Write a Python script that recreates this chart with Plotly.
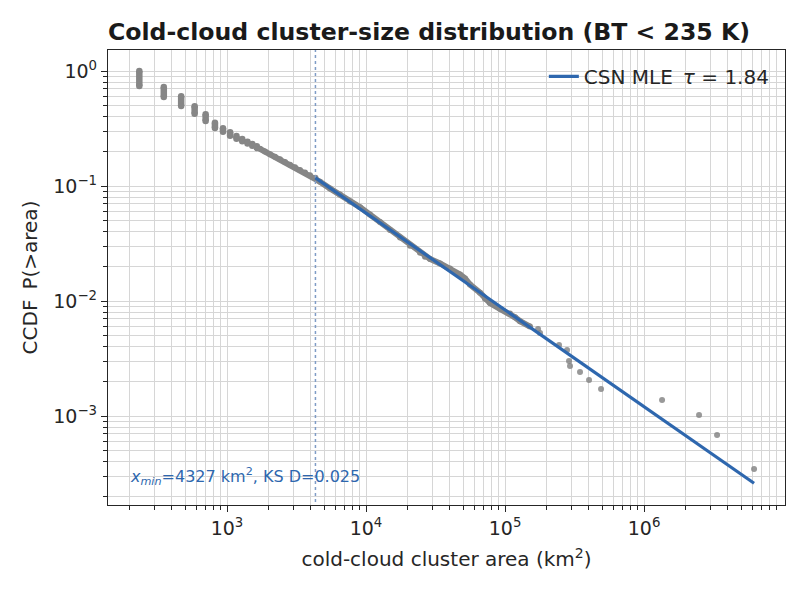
import plotly.graph_objects as go

# ---- data ----
# tied cluster areas (small sizes): area, CCDF at top and bottom of each stack of tied points
col_area = [234, 351, 468, 585, 702, 819, 936, 1053, 1170, 1287, 1404, 1521, 1638]
col_top = [1.0, 0.725, 0.605, 0.495, 0.42, 0.355, 0.318, 0.294, 0.272, 0.256, 0.243, 0.232, 0.222]
col_bot = [0.74, 0.595, 0.497, 0.425, 0.368, 0.32, 0.296, 0.274, 0.258, 0.245, 0.234, 0.224, 0.214]

# dense continuous body of the empirical CCDF
band_area = [1727, 1876, 2039, 2215, 2406, 2615, 2840, 3085, 3352, 3641, 3955, 4327,
             4668, 5508, 6501, 7672, 9055, 10686, 12612, 14884, 17565, 20730, 24465,
             26575, 28870, 34070, 40210, 47460, 51550, 56010, 66100, 71810, 78010,
             92050, 108640, 118000, 128220, 151300]
band_ccdf = [0.2106, 0.1995, 0.1894, 0.1798, 0.1707, 0.1617, 0.1535, 0.1457, 0.1380,
             0.1310, 0.1244, 0.1178, 0.1090, 0.0952, 0.0845, 0.0734, 0.0655, 0.0565,
             0.0486, 0.0414, 0.0356, 0.0303, 0.0263, 0.0243, 0.0232, 0.0212, 0.0192,
             0.0170, 0.0157, 0.01390, 0.01180, 0.01045, 0.00960, 0.00855, 0.00780,
             0.00722, 0.00668, 0.00600]

# sparse tail points
tail_area = [172800, 178600, 244700, 279300, 288600, 293500, 346400, 402100, 490600,
             1348000, 2487000, 3352000, 6186000]
tail_ccdf = [0.00571, 0.00527, 0.00414, 0.00375, 0.00301, 0.00272, 0.00241, 0.00206,
             0.00172, 0.00138, 0.00102, 0.000684, 0.000346]

# CSN maximum-likelihood power-law fit
x_min = 4327
tau = 1.84
ks_d = 0.025
fit_area = [4327, 6186000]
fit_ccdf = [0.1178, 0.00026]

x_tickvals = [1e3, 1e4, 1e5, 1e6]
x_ticktext = ["10<sup>3</sup>", "10<sup>4</sup>", "10<sup>5</sup>", "10<sup>6</sup>"]
y_tickvals = [1e-3, 1e-2, 1e-1, 1e0]
y_ticktext = ["10<sup>\u22123</sup>", "10<sup>\u22122</sup>", "10<sup>\u22121</sup>", "10<sup>0</sup>"]

# ---- styling ----
GREY = "#868686"
GREY_SPARSE = "rgba(128,128,128,0.8)"
BLUE = "#2e67ae"
FONT = "DejaVu Sans"
INK = "#262626"

x_range = [2.144, 7.014]
y_range = [-3.774, 0.183]

x_minor = [m * 10 ** d for d in range(2, 7) for m in range(2, 10)]
y_minor = [m * 10 ** d for d in range(-4, 0) for m in range(2, 10)]

fig = go.Figure()

# tied stacks
cx, cy = [], []
for a, t, b in zip(col_area, col_top, col_bot):
    cx += [a, a, None]
    cy += [t, b, None]
fig.add_trace(go.Scatter(x=cx, y=cy, mode="lines+markers",
                         line=dict(color=GREY, width=6.5),
                         marker=dict(color=GREY, size=6.5),
                         showlegend=False, hoverinfo="skip"))

# dense body
fig.add_trace(go.Scatter(x=band_area, y=band_ccdf, mode="lines+markers",
                         line=dict(color=GREY, width=6),
                         marker=dict(color=GREY, size=6),
                         showlegend=False, hoverinfo="skip"))

# tail
fig.add_trace(go.Scatter(x=tail_area, y=tail_ccdf, mode="markers",
                         marker=dict(color=GREY_SPARSE, size=6),
                         showlegend=False, hoverinfo="skip"))

# x_min marker line
fig.add_trace(go.Scatter(x=[x_min, x_min], y=[1e-5, 10], mode="lines",
                         line=dict(color="#7f9cc6", width=1.5, dash="dot"),
                         showlegend=False, hoverinfo="skip"))

# fit
fig.add_trace(go.Scatter(x=fit_area, y=fit_ccdf, mode="lines",
                         line=dict(color=BLUE, width=3.2),
                         name=f"CSN MLE\u2002<i>\u03c4</i> = {tau:.2f}"))

axis_common = dict(
    type="log", showline=True, linecolor=INK, linewidth=1.3, mirror=True,
    ticks="outside", ticklen=6, tickwidth=1.1, tickcolor=INK,
    showgrid=True, gridcolor="#d6d6d6", gridwidth=0.8, zeroline=False,
    tickfont=dict(family=FONT, size=19, color=INK),
)

fig.update_xaxes(**axis_common, range=x_range, tickmode="array",
                 tickvals=x_tickvals, ticktext=x_ticktext,
                 minor=dict(tickmode="array", tickvals=x_minor, ticks="outside",
                            ticklen=3.5, tickwidth=0.9, tickcolor=INK,
                            showgrid=True, gridcolor="#d6d6d6", gridwidth=0.8),
                 title=dict(text="cold-cloud cluster area (km<sup>2</sup>)",
                            font=dict(family=FONT, size=20, color=INK),
                            standoff=14))
fig.update_yaxes(**axis_common, range=y_range, tickmode="array",
                 tickvals=y_tickvals, ticktext=y_ticktext,
                 minor=dict(tickmode="array", tickvals=y_minor, ticks="outside",
                            ticklen=3.5, tickwidth=0.9, tickcolor=INK,
                            showgrid=True, gridcolor="#d6d6d6", gridwidth=0.8),
                 title=dict(text="CCDF\u2002P(>area)",
                            font=dict(family=FONT, size=20, color=INK),
                            standoff=10))

fig.add_annotation(xref="paper", yref="paper", x=0.03, y=0.062,
                   xanchor="left", yanchor="middle", showarrow=False,
                   text=f"<i>x<sub>min</sub></i>={x_min} km<sup>2</sup>, KS D={ks_d:.3f}",
                   font=dict(family=FONT, size=16, color=BLUE))

fig.update_layout(
    width=806, height=598,
    margin=dict(l=108, r=21, t=50, b=93),
    paper_bgcolor="white", plot_bgcolor="white",
    title=dict(text="<b>Cold-cloud cluster-size distribution (BT < 235 K)</b>",
               font=dict(family=FONT, size=23.6, color="#1a1a1a"),
               xref="paper", x=0, xanchor="left",
               yref="container", y=0.947, yanchor="middle"),
    legend=dict(x=0.985, y=0.985, xanchor="right", yanchor="top",
                bgcolor="rgba(255,255,255,0)", borderwidth=0,
                font=dict(family=FONT, size=20, color=INK)),
)

fig.write_html("out.html")
